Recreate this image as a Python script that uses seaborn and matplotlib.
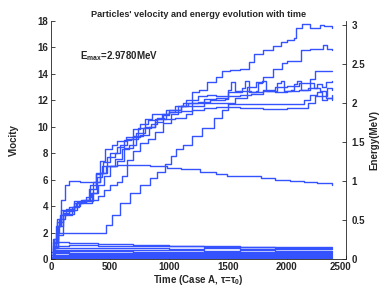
import numpy as np
import pandas as pd
import matplotlib
matplotlib.use('Agg')
import matplotlib.pyplot as plt
import matplotlib.transforms as mtransforms
import seaborn as sns

# rising particles (time, velocity) waypoints
a_t = [0, 20, 60, 100, 150, 200, 260, 300, 350, 400, 450, 500, 560, 620, 700, 780, 850, 900, 980, 1050,
       1120, 1200, 1260, 1320, 1400, 1450, 1520, 1600, 1680, 1720, 1800, 1880, 1950, 2000, 2060, 2080,
       2130, 2200, 2280, 2320, 2380]
a_v = [0, 1.5, 2.5, 3.5, 3.4, 4.2, 4.3, 4.5, 5.0, 5.6, 6.3, 7.0, 7.4, 8.4, 9.3, 9.9, 10.2, 10.6, 11.3, 11.6,
       11.8, 12.6, 12.8, 13.4, 13.8, 14.2, 14.3, 14.4, 14.9, 15.5, 15.8, 16.1, 16.4, 16.6, 16.7, 17.5,
       17.8, 17.5, 17.7, 17.6, 17.45]

b_t = [0, 30, 60, 100, 440, 470, 520, 585, 670, 760, 840, 900, 965, 1020, 1065, 1120, 1200, 1280, 1380,
       1450, 1500, 1560, 1660, 1740, 1800, 1880, 1960, 2000, 2100, 2120, 2200, 2310, 2340, 2380]
b_v = [0, 1.2, 1.8, 2.0, 2.0, 2.6, 3.3, 4.2, 5.0, 5.6, 6.1, 6.6, 7.2, 7.8, 8.3, 8.6, 9.3, 9.9, 10.7,
       11.3, 11.8, 12.2, 13.0, 13.4, 13.8, 14.4, 14.8, 15.0, 15.0, 15.8, 15.9, 16.2, 15.9, 15.8]

c_t = [0, 15, 40, 80, 130, 200, 260, 330, 380, 420, 460, 520, 560, 640, 700, 760, 820, 900, 960, 1050,
       1150, 1200, 1300, 1400, 1500, 1600, 1700, 1800, 1900, 2000, 2100, 2200, 2240, 2380]
c_v = [0, 1.0, 2.5, 3.3, 3.8, 4.4, 4.5, 5.6, 6.4, 7.4, 8.3, 8.6, 8.9, 9.2, 9.8, 10.2, 10.5, 10.7, 10.6, 10.7,
       11.0, 11.6, 12.1, 12.2, 12.3, 12.4, 12.5, 12.8, 13.0, 13.1, 13.3, 13.6, 14.2, 14.2]

d_t = [0, 20, 50, 100, 160, 220, 300, 360, 420, 480, 540, 600, 660, 720, 800, 880, 950, 1000, 1050, 1100,
       1160, 1250, 1350, 1480, 1500, 1530, 1560, 1600, 1620, 1650, 1680, 1740, 1760, 1790, 1820, 1900,
       1920, 1950, 1980, 2040, 2060, 2090, 2120, 2180, 2200, 2230, 2260, 2300, 2330, 2380]
d_v = [0, 1.3, 2.8, 3.6, 3.7, 4.3, 4.4, 5.8, 6.5, 7.0, 7.6, 8.3, 8.6, 9.5, 10.0, 10.4, 10.9, 11.1, 11.3, 11.6,
       11.8, 11.9, 12.0, 12.1, 12.8, 13.4, 12.7, 12.6, 12.9, 13.5, 12.6, 12.7, 13.3, 13.5, 12.7, 12.7,
       13.3, 13.5, 12.7, 12.8, 13.2, 13.5, 12.8, 12.9, 13.3, 12.9, 13.2, 13.0, 13.4, 13.5]

e_t = [0, 25, 50, 90, 150, 210, 270, 320, 380, 440, 500, 560, 620, 680, 740, 800, 860, 920, 1000, 1100,
       1200, 1300, 1500, 1700, 1900, 2100, 2150, 2200, 2260, 2300, 2340, 2380]
e_v = [0, 1.5, 3.0, 3.7, 3.9, 4.2, 4.5, 5.3, 6.5, 7.3, 8.0, 8.5, 9.0, 9.1, 9.9, 10.6, 11.0, 11.0, 11.3, 11.6,
       11.8, 11.8, 11.7, 11.75, 11.7, 11.7, 12.0, 12.4, 12.6, 12.3, 12.9, 12.8]

f_t = [0, 30, 60, 100, 150, 200, 250, 300, 340, 390, 430, 480, 540, 590, 650, 700, 760, 830, 880, 940,
       1000, 1100, 1200, 1300, 1400, 1600, 1800, 2000, 2100, 2180, 2240, 2300, 2340, 2380]
f_v = [0, 0.9, 2.0, 3.4, 3.6, 4.0, 4.4, 4.7, 5.0, 6.2, 7.0, 7.7, 8.0, 8.6, 9.1, 9.2, 9.4, 10.0, 10.6, 11.0,
       11.1, 11.2, 11.3, 11.4, 11.5, 11.4, 11.35, 11.4, 11.4, 11.8, 12.3, 12.0, 12.2, 12.4]

g_t = [0, 20, 40, 70, 120, 180, 240, 300, 350, 400, 450, 500, 560, 600, 650, 700, 760, 820, 880, 950,
       1020, 1080, 1150, 1250, 1320, 1400, 1500, 1600, 1700, 1800, 1900, 2000, 2100, 2200, 2280, 2330, 2380]
g_v = [0, 0.8, 2.0, 3.0, 3.3, 3.9, 4.2, 4.2, 4.5, 4.8, 5.2, 5.6, 5.8, 6.3, 7.5, 8.2, 8.8, 9.1, 9.6, 10.3,
       11.0, 11.6, 12.0, 12.3, 12.4, 12.3, 12.6, 12.7, 12.6, 12.7, 12.6, 12.7, 12.8, 12.9, 12.7, 12.2, 12.0]

# particle that peaks early then slowly loses speed
p_t = [0, 30, 60, 90, 120, 150, 250, 380, 420, 470, 560, 700, 840, 985, 1100, 1265, 1400, 1495, 1600,
       1780, 1900, 2030, 2150, 2260, 2380]
p_v = [0, 0.8, 2.5, 4.5, 5.6, 5.9, 5.8, 5.8, 6.5, 7.0, 7.1, 7.1, 7.05, 6.9, 6.8, 6.6, 6.4, 6.3, 6.3,
       6.1, 6.0, 5.9, 5.8, 5.75, 5.6]

# slow particles near the bottom
band_t = [0, 30, 150, 400, 700, 1000, 1300, 1600, 1900, 2200, 2380]
low_a = [0, 1.25, 1.2, 1.15, 1.08, 1.0, 0.95, 0.92, 0.9, 0.9, 0.88]
low_b = [0, 1.0, 1.05, 1.0, 0.98, 0.95, 0.9, 0.88, 0.85, 0.87, 0.85]
low_c = [0, 0.85, 0.82, 0.8, 0.8, 0.78, 0.8, 0.76, 0.78, 0.75, 0.75]
low_d = [0, 0.7, 0.68, 0.66, 0.65, 0.66, 0.64, 0.65, 0.63, 0.64, 0.62]
low_e = [0, 0.6, 0.58, 0.57, 0.56, 0.55, 0.56, 0.54, 0.55, 0.53, 0.54]
low_f = [0.5, 0.5, 0.49, 0.48, 0.47, 0.48, 0.46, 0.47, 0.45, 0.46, 0.45]
low_g = [0, 0.42, 0.4, 0.41, 0.39, 0.4, 0.38, 0.39, 0.37, 0.38, 0.37]
low_h = [0.3, 0.33, 0.32, 0.31, 0.32, 0.3, 0.31, 0.29, 0.3, 0.29, 0.3]
low_i = [0, 0.25, 0.24, 0.23, 0.24, 0.22, 0.23, 0.22, 0.21, 0.22, 0.21]
low_j = [0.15, 0.17, 0.16, 0.15, 0.16, 0.15, 0.14, 0.15, 0.14, 0.15, 0.14]
low_k = [0, 0.09, 0.08, 0.09, 0.08, 0.07, 0.08, 0.07, 0.08, 0.07, 0.07]

x_ticks = [0, 500, 1000, 1500, 2000, 2500]
v_ticks = [0, 2, 4, 6, 8, 10, 12, 14, 16, 18]
e_ticks = [0, 0.5, 1, 1.5, 2, 2.5, 3]
e_labels = ['0', '0.5', '1', '1.5', '2', '2.5', '3']

LINE = '#3552ff'


def build_frame():
    """Stack every particle into one long table for seaborn."""
    tracks = {'a': (a_t, a_v), 'b': (b_t, b_v), 'c': (c_t, c_v), 'd': (d_t, d_v),
              'e': (e_t, e_v), 'f': (f_t, f_v), 'g': (g_t, g_v), 'p': (p_t, p_v)}
    lows = [low_a, low_b, low_c, low_d, low_e, low_f, low_g, low_h, low_i, low_j, low_k]
    for i, vals in enumerate(lows):
        tracks['low%d' % i] = (band_t, vals)
    rows = []
    for name, (t, v) in tracks.items():
        rows.append(pd.DataFrame({'particle': name, 't': t, 'v': v}))
    return pd.concat(rows, ignore_index=True)


sns.set_style('ticks')
plt.rcParams['font.family'] = ['Liberation Sans', 'DejaVu Sans']
plt.rcParams['font.weight'] = 'bold'
plt.rcParams['mathtext.fontset'] = 'custom'
plt.rcParams['mathtext.rm'] = 'Liberation Sans:bold'
plt.rcParams['mathtext.it'] = 'Liberation Sans:bold'
plt.rcParams['mathtext.bf'] = 'Liberation Sans:bold'

df = build_frame()

fig = plt.figure(figsize=(3.88, 2.92), dpi=100)
ax = fig.add_axes([0.131, 0.113, 0.760, 0.815])

sns.lineplot(data=df, x='t', y='v', units='particle', estimator=None, color=LINE,
             linewidth=1.0, drawstyle='steps-post', ax=ax, legend=False)

ax.set_xlim(0, 2500)
ax.set_ylim(0, 18)
ax.set_xticks(x_ticks)
ax.set_yticks(v_ticks)
ax.tick_params(direction='in', length=3, width=0.6, labelsize=7, pad=2)
ax.set_xlabel(r'Time (Case A, $\tau$=$\tau_0$)', fontsize=7, fontweight='bold', labelpad=1)
ax.set_ylabel('Vlocity', fontsize=7, fontweight='bold', labelpad=13)
ax.set_title("Particles' velocity and energy evolution with time", fontsize=6.6,
             fontweight='bold', pad=3)
ax.text(250, 15.1, r'E$_{max}$=2.9780MeV', fontsize=7, fontweight='bold')

# nudge the last time label left so it clears the energy axis "0"
shift = mtransforms.ScaledTranslation(-4 / 72, 0, fig.dpi_scale_trans)
last = ax.get_xticklabels()[-1]
last.set_transform(last.get_transform() + shift)

ax2 = ax.twinx()
ax2.set_ylim(0, 3.057)
ax2.set_yticks(e_ticks)
ax2.set_yticklabels(e_labels)
ax2.tick_params(direction='in', length=3, width=0.6, labelsize=7, pad=4)
ax2.set_ylabel('Energy(MeV)', fontsize=7, fontweight='bold', labelpad=3)

for a in (ax, ax2):
    a.spines['top'].set_visible(False)
    for s in ('left', 'right', 'bottom'):
        a.spines[s].set_linewidth(0.6)
        a.spines[s].set_color('#222222')
ax.spines['right'].set_visible(False)
ax2.spines['left'].set_visible(False)
ax2.spines['bottom'].set_visible(False)

fig.savefig('out.png', dpi=100)
